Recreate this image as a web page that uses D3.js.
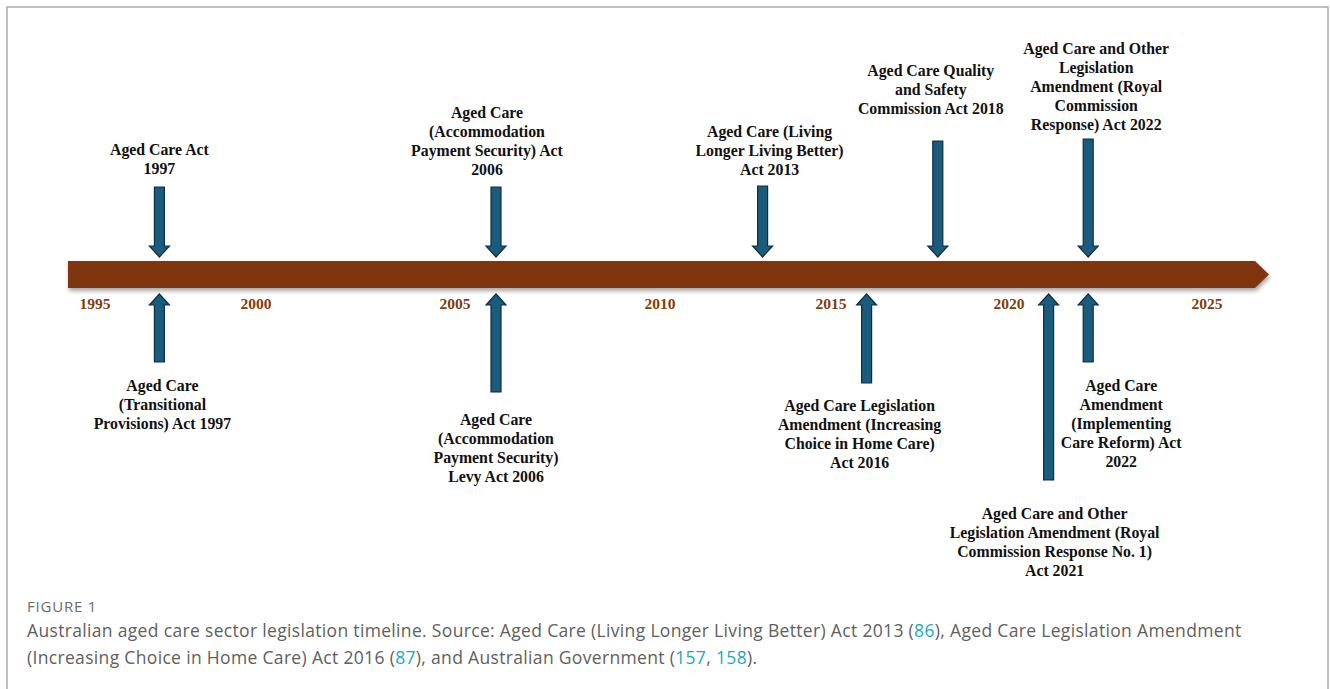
<!DOCTYPE html>
<html>
<head>
<meta charset="utf-8">
<script src="https://cdn.jsdelivr.net/npm/d3@7"></script>
<style>
  body { margin: 0; background: #ffffff; }
  .lbl { font-family: "Liberation Serif", "Times New Roman", serif; font-weight: bold; font-size: 15.8px; fill: #111111; }
  .yr { font-family: "Liberation Serif", "Times New Roman", serif; font-weight: bold; font-size: 15.5px; fill: #843c0c; }
  .cap { font-family: "Open Sans", Lato, sans-serif; fill: #606060; }
  .ref { fill: #1aa9c4; }
</style>
</head>
<body>
<div id="chart"></div>
<script>
// timeline data
var tickYears = [1995, 2000, 2005, 2010, 2015, 2020, 2025];

var aboveYears = [1997, 2006, 2013, 2018, 2022];
var aboveLabels = [
  ["Aged Care Act", "1997"],
  ["Aged Care", "(Accommodation", "Payment Security) Act", "2006"],
  ["Aged Care (Living", "Longer Living Better)", "Act 2013"],
  ["Aged Care Quality", "and Safety", "Commission Act 2018"],
  ["Aged Care and Other", "Legislation", "Amendment (Royal", "Commission", "Response) Act 2022"]
];

var belowYears = [1997, 2006, 2016, 2021, 2022];
var belowLabels = [
  ["Aged Care", "(Transitional", "Provisions) Act 1997"],
  ["Aged Care", "(Accommodation", "Payment Security)", "Levy Act 2006"],
  ["Aged Care Legislation", "Amendment (Increasing", "Choice in Home Care)", "Act 2016"],
  ["Aged Care and Other", "Legislation Amendment (Royal", "Commission Response No. 1)", "Act 2021"],
  ["Aged Care", "Amendment", "(Implementing", "Care Reform) Act", "2022"]
];

// layout only: arrow ends and label placement
var aboveLayout = [
  {top: 187, ly: 150, dx: 0}, {top: 187, ly: 113, dx: -9}, {top: 186, ly: 132, dx: 7},
  {top: 141, ly: 71, dx: -7}, {top: 139, ly: 49, dx: 8}
];
var belowLayout = [
  {bottom: 362, ly: 386, dx: 3}, {bottom: 392, ly: 420, dx: 0}, {bottom: 383, ly: 406, dx: -7},
  {bottom: 480, ly: 514, dx: 6}, {bottom: 362, ly: 386, dx: 33}
];

var W = 1330, H = 689;
var svg = d3.select("#chart").append("svg").attr("width", W).attr("height", H);

// frame
svg.append("rect").attr("x", 7).attr("y", 7).attr("width", 1321).attr("height", 700)
  .attr("fill", "none").attr("stroke", "#ababab").attr("stroke-width", 1.5);

// the drawing is not evenly spaced, so use the label positions as the scale stops
var x = d3.scaleLinear().domain(tickYears).range([95, 256, 455, 660, 831, 1009, 1207]);

var defs = svg.append("defs");
var f = defs.append("filter").attr("id", "shadow").attr("x", "-5%").attr("y", "-50%")
  .attr("width", "110%").attr("height", "220%");
f.append("feDropShadow").attr("dx", 1).attr("dy", 3).attr("stdDeviation", 2)
  .attr("flood-color", "#000").attr("flood-opacity", 0.35);

// main bar with pointed end
var barTop = 261, barBot = 288, barL = 68, barR = 1255, tip = 1269;
svg.append("path")
  .attr("d", "M" + barL + "," + barTop + "H" + barR + "L" + tip + "," + (barTop + barBot) / 2 +
    "L" + barR + "," + barBot + "H" + barL + "Z")
  .attr("fill", "#7f3411").attr("filter", "url(#shadow)");

// year labels
svg.selectAll(".yr").data(tickYears).join("text")
  .attr("class", "yr").attr("x", d => x(d)).attr("y", 309)
  .attr("text-anchor", "middle").text(d => d);

function arrowPath(cx, from, to) {
  // from = tail end, to = tip
  var dir = to > from ? 1 : -1, head = 11;
  var neck = to - dir * head;
  return "M" + (cx - 5) + "," + from + "V" + neck + "H" + (cx - 10) + "L" + cx + "," + to +
    "L" + (cx + 10) + "," + neck + "H" + (cx + 5) + "V" + from + "Z";
}

var arrowFill = "#1b5b7b", arrowStroke = "#0c2f42";

function addLabel(lines, cx, y0) {
  var t = svg.append("text").attr("class", "lbl").attr("text-anchor", "middle");
  lines.forEach(function (s, i) {
    t.append("tspan").attr("x", cx).attr("y", y0 + 5 + i * 19).text(s);
  });
}

aboveYears.forEach(function (yr, i) {
  var L = aboveLayout[i], cx = x(yr);
  svg.append("path").attr("d", arrowPath(cx, L.top, 257))
    .attr("fill", arrowFill).attr("stroke", arrowStroke).attr("stroke-width", 1.2);
  addLabel(aboveLabels[i], cx + L.dx, L.ly);
});

belowYears.forEach(function (yr, i) {
  var L = belowLayout[i], cx = x(yr);
  svg.append("path").attr("d", arrowPath(cx, L.bottom, 294))
    .attr("fill", arrowFill).attr("stroke", arrowStroke).attr("stroke-width", 1.2);
  addLabel(belowLabels[i], cx + L.dx, L.ly);
});

// caption
svg.append("text").attr("class", "cap").attr("x", 27).attr("y", 612)
  .style("font-size", "15px").style("letter-spacing", "0.8px").style("fill", "#6b6b6b").text("FIGURE 1");

var cap1 = svg.append("text").attr("class", "cap").attr("x", 27).attr("y", 637)
  .style("font-size", "17.5px").style("letter-spacing", "0.33px");
cap1.append("tspan").text("Australian aged care sector legislation timeline. Source: Aged Care (Living Longer Living Better) Act 2013 (");
cap1.append("tspan").attr("class", "ref").text("86");
cap1.append("tspan").text("), Aged Care Legislation Amendment");

var cap2 = svg.append("text").attr("class", "cap").attr("x", 27).attr("y", 664)
  .style("font-size", "17.5px").style("letter-spacing", "0.33px");
cap2.append("tspan").text("(Increasing Choice in Home Care) Act 2016 (");
cap2.append("tspan").attr("class", "ref").text("87");
cap2.append("tspan").text("), and Australian Government (");
cap2.append("tspan").attr("class", "ref").text("157");
cap2.append("tspan").text(", ");
cap2.append("tspan").attr("class", "ref").text("158");
cap2.append("tspan").text(").");
</script>
</body>
</html>
